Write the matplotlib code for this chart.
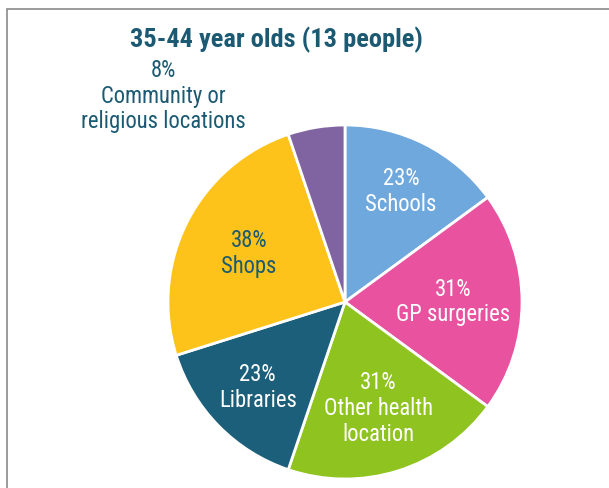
import numpy as np
import matplotlib
matplotlib.use("Agg")
import matplotlib.pyplot as plt
from matplotlib.patches import Rectangle

# data (shares of 13 people, multiple answers so > 100%)
places = ["Schools", "GP surgeries", "Other health\nlocation", "Libraries", "Shops",
          "Community or\nreligious locations"]
percents = [23, 31, 31, 23, 38, 8]
colours = ["#6fa8dc", "#e8529f", "#8fc31f", "#1b5f7a", "#fec31a", "#8064a2"]
text_colours = ["white", "white", "white", "white", "#1b5a72", "#1b5a72"]
label_r = [0.70, 0.61, 0.63, 0.69, 0.61, None]   # fraction of radius, None = outside

title = "35-44 year olds (13 people)"
dark = "#1b5a72"

W, H = 609, 488
fig = plt.figure(figsize=(W / 100, H / 100), dpi=100)
ax = fig.add_axes([0, 0, 1, 1])

cx, cy, R = 345, H - 302, 177
wedges, _ = ax.pie(percents, colors=colours, startangle=90, counterclock=False,
                   center=(cx, cy), radius=R,
                   wedgeprops=dict(edgecolor="white", linewidth=2))
ax.set_xlim(0, W)
ax.set_ylim(0, H)
ax.set_aspect("equal")
ax.axis("off")

font = dict(family="Roboto Condensed")
lab = dict(ha="center", va="center", fontsize=16.3, linespacing=1.15, **font)

for w, p, name, tc, r in zip(wedges, percents, places, text_colours, label_r):
    txt = f"{p}%\n{name}"
    if r is None:
        # community label sits outside, up and left of its slice
        ax.text(163, H - 96, txt, color=tc, **lab)
        continue
    mid = np.deg2rad((w.theta1 + w.theta2) / 2)
    ax.text(cx + r * R * np.cos(mid), cy + r * R * np.sin(mid), txt, color=tc, **lab)

ax.text(276, H - 40, title, ha="center", va="center", color=dark, fontsize=19,
        fontweight="bold", **font)

# outer frame of the chart area
ax.add_patch(Rectangle((7, -20), W + 20, H - 9 + 20, fill=False, edgecolor="#8a8a8a",
                       linewidth=1.2, clip_on=False))

fig.savefig("out.png", dpi=100)
